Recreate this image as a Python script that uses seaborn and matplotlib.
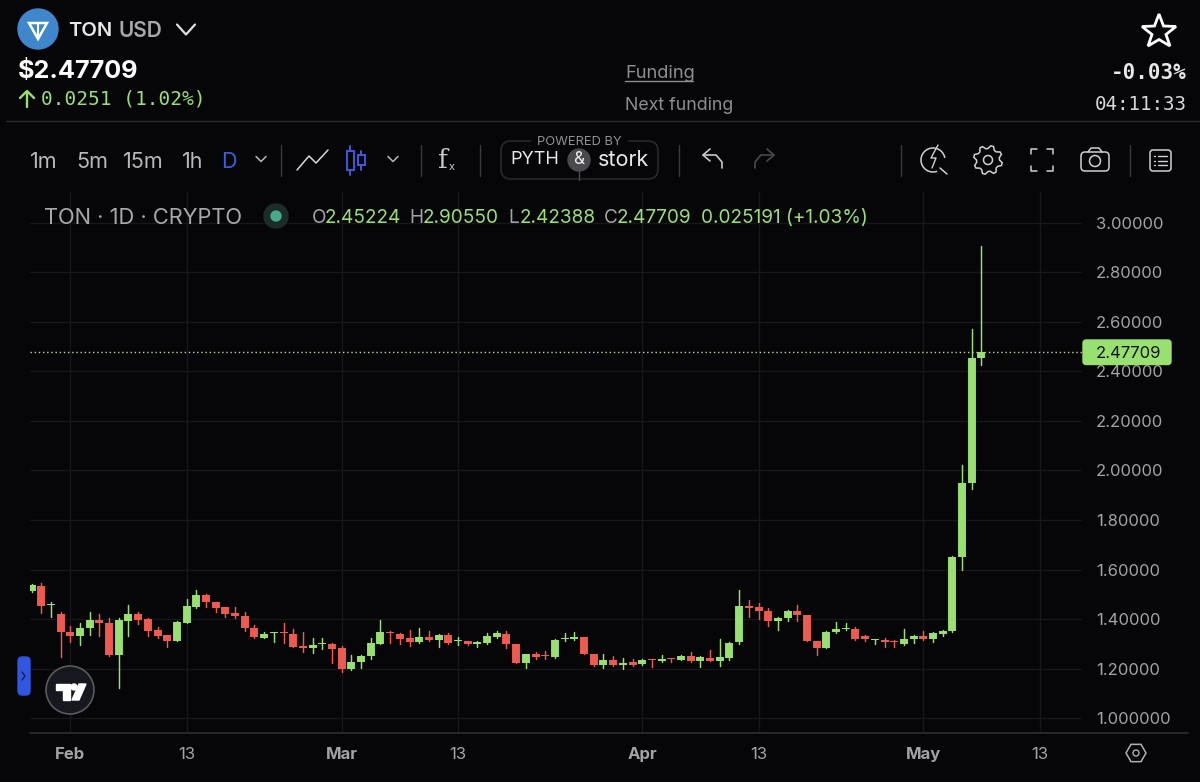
import numpy as np
import pandas as pd
import seaborn as sns
import matplotlib.pyplot as plt
from matplotlib.patches import Circle, FancyBboxPatch, Polygon, Rectangle, RegularPolygon, Arc

opens = [1.515, 1.534, 1.456, 1.423, 1.350, 1.334, 1.364, 1.397, 1.386, 1.256, 1.394, 1.423, 1.400, 1.358, 1.337, 1.311, 1.386, 1.451, 1.498, 1.468,
         1.448, 1.425, 1.415, 1.365, 1.326, 1.345, 1.347, 1.342, 1.292, 1.284, 1.300, 1.300, 1.283, 1.198, 1.226, 1.251, 1.302, 1.347, 1.342, 1.325,
         1.310, 1.329, 1.316, 1.335, 1.311, 1.312, 1.300, 1.303, 1.330, 1.342, 1.300, 1.224, 1.260, 1.256, 1.247, 1.321, 1.319, 1.329, 1.260, 1.214,
         1.237, 1.216, 1.228, 1.218, 1.240, 1.230, 1.243, 1.236, 1.252, 1.233, 1.245, 1.233, 1.245, 1.307, 1.455, 1.450, 1.435, 1.393, 1.404, 1.434,
         1.417, 1.314, 1.286, 1.347, 1.360, 1.362, 1.334, 1.315, 1.317, 1.313, 1.300, 1.319, 1.334, 1.321, 1.342, 1.352, 1.651, 1.950, 2.45224]
closes = [1.537, 1.454, 1.463, 1.349, 1.334, 1.365, 1.396, 1.385, 1.255, 1.397, 1.423, 1.397, 1.354, 1.334, 1.311, 1.389, 1.454, 1.498, 1.468, 1.446,
          1.423, 1.413, 1.364, 1.327, 1.342, 1.347, 1.345, 1.290, 1.284, 1.295, 1.304, 1.280, 1.198, 1.228, 1.253, 1.303, 1.347, 1.343, 1.320, 1.310,
          1.329, 1.316, 1.335, 1.306, 1.316, 1.299, 1.307, 1.331, 1.343, 1.299, 1.222, 1.259, 1.247, 1.251, 1.316, 1.325, 1.329, 1.260, 1.214, 1.237,
          1.214, 1.225, 1.217, 1.236, 1.236, 1.241, 1.239, 1.252, 1.232, 1.248, 1.233, 1.248, 1.303, 1.454, 1.447, 1.433, 1.392, 1.407, 1.434, 1.416,
          1.311, 1.286, 1.350, 1.362, 1.365, 1.319, 1.322, 1.319, 1.307, 1.307, 1.320, 1.334, 1.319, 1.345, 1.353, 1.651, 1.950, 2.452, 2.47709]
highs = [1.542, 1.548, 1.471, 1.428, 1.373, 1.386, 1.428, 1.420, 1.404, 1.404, 1.456, 1.431, 1.404, 1.369, 1.338, 1.393, 1.482, 1.517, 1.501, 1.471,
         1.450, 1.450, 1.428, 1.378, 1.347, 1.349, 1.384, 1.360, 1.347, 1.323, 1.323, 1.303, 1.294, 1.256, 1.256, 1.323, 1.397, 1.351, 1.346, 1.357,
         1.365, 1.351, 1.341, 1.345, 1.327, 1.314, 1.312, 1.345, 1.354, 1.354, 1.300, 1.260, 1.268, 1.272, 1.319, 1.343, 1.350, 1.330, 1.261, 1.259,
         1.253, 1.244, 1.239, 1.240, 1.241, 1.257, 1.244, 1.257, 1.267, 1.252, 1.278, 1.319, 1.307, 1.518, 1.477, 1.466, 1.446, 1.409, 1.438, 1.456,
         1.417, 1.314, 1.351, 1.389, 1.384, 1.368, 1.337, 1.320, 1.323, 1.315, 1.362, 1.335, 1.354, 1.349, 1.357, 1.655, 2.022, 2.571, 2.9055]
lows = [1.509, 1.427, 1.408, 1.249, 1.308, 1.298, 1.338, 1.334, 1.252, 1.124, 1.333, 1.381, 1.334, 1.325, 1.288, 1.311, 1.384, 1.446, 1.450, 1.428,
        1.409, 1.404, 1.354, 1.326, 1.325, 1.308, 1.303, 1.288, 1.270, 1.264, 1.280, 1.225, 1.189, 1.194, 1.204, 1.241, 1.302, 1.306, 1.299, 1.294,
        1.303, 1.314, 1.290, 1.302, 1.298, 1.295, 1.287, 1.299, 1.326, 1.283, 1.222, 1.202, 1.241, 1.241, 1.245, 1.311, 1.318, 1.260, 1.210, 1.204,
        1.210, 1.200, 1.212, 1.216, 1.206, 1.228, 1.229, 1.235, 1.229, 1.209, 1.232, 1.212, 1.237, 1.302, 1.411, 1.400, 1.373, 1.358, 1.395, 1.392,
        1.311, 1.256, 1.284, 1.346, 1.358, 1.318, 1.311, 1.302, 1.288, 1.287, 1.298, 1.304, 1.316, 1.310, 1.334, 1.350, 1.600, 1.925, 2.42388]

price_ticks = [1.0, 1.2, 1.4, 1.6, 1.8, 2.0, 2.2, 2.4, 2.6, 2.8, 3.0]
price_labels = ['1.000000', '1.20000', '1.40000', '1.60000', '1.80000', '2.00000', '2.20000', '2.40000', '2.60000', '2.80000', '3.00000']
day_ticks = [4, 16, 32, 44, 63, 75, 92, 104]
day_labels = ['Feb', '13', 'Mar', '13', 'Apr', '13', 'May', '13']
last_price = 2.47709

bg = '#060609'
green = '#98e070'
red = '#ef5a50'
grey = '#a3a3a6'
line = '#2a2a2e'
blue = '#3b5bdb'

sns.set_theme(style='dark')
plt.rcParams['font.family'] = ['Inter', 'DejaVu Sans']

days = list(range(len(opens)))
direction = ['up' if c >= o else 'down' for o, c in zip(opens, closes)]
wicks = pd.DataFrame({'day': days * 2, 'price': lows + highs, 'dir': direction * 2})
bodies = pd.DataFrame({'day': days * 2, 'price': opens + closes, 'dir': direction * 2})
palette = {'up': green, 'down': red}

fig = plt.figure(figsize=(12, 7.82), dpi=100, facecolor=bg)
ax = fig.add_axes([30 / 1200, 1 - 733 / 782, 1052 / 1200, 541 / 782], facecolor=bg)

sns.lineplot(data=wicks, x='day', y='price', hue='dir', units='day', estimator=None, palette=palette,
             linewidth=1.05, legend=False, ax=ax, zorder=3)
sns.lineplot(data=bodies, x='day', y='price', hue='dir', units='day', estimator=None, palette=palette,
             linewidth=5.7, solid_capstyle='butt', legend=False, ax=ax, zorder=4)

ax.axhline(last_price, color='#b8d890', lw=1, ls=(0, (1, 2)), zorder=2)
ax.set_xlim(-0.155, 108.37)
ax.set_ylim(0.9415, 3.123)
ax.set_xticks(day_ticks, day_labels)
ax.set_yticks(price_ticks, price_labels)
ax.set_xlabel('')
ax.set_ylabel('')
ax.yaxis.tick_right()
ax.tick_params(axis='both', length=0, labelcolor=grey, labelsize=12)
ax.tick_params(axis='x', pad=10)
ax.tick_params(axis='y', pad=10)
for t in ax.get_xticklabels():
    if t.get_text() != '13':
        t.set_weight('bold')
ax.grid(True, color='#17171b', lw=1)
ax.set_axisbelow(True)
for s in ax.spines.values():
    s.set_visible(False)

# everything around the chart, in pixel coordinates
ui = fig.add_axes([0, 0, 1, 1], facecolor='none')
ui.set_xlim(0, 1200)
ui.set_ylim(782, 0)
ui.axis('off')


def label(x, y, s, size=13, color=grey, ha='left', weight='normal', family=None):
    return ui.text(x, y + 2, s, fontsize=size, color=color, ha=ha, va='center', weight=weight,
                   family=family or ['Inter', 'DejaVu Sans'])


def stroke(xs, ys, color='#d8d8d8', lw=1.2):
    ui.plot(xs, ys, color=color, lw=lw, solid_capstyle='round', solid_joinstyle='round')


def chevron(x, y, w, h, color='#d8d8d8', lw=1.4):
    stroke([x - w, x, x + w], [y - h, y + h, y - h], color, lw)


mono = ['DejaVu Sans Mono']

stroke([30, 1188], [733, 733], '#2e2e32', 1.2)

# header
ui.add_patch(Circle((38, 29), 20, color='#3f87cc'))
ui.add_patch(Polygon([[29, 23], [47, 23], [38, 39]], closed=True, fill=False, ec='white', lw=1.8))
stroke([38, 38], [23, 39], 'white', 1.5)
label(68, 29, 'TON', 14.5, '#e8e8e8', weight='semibold')
label(119, 29, 'USD', 15, '#a8a8a8', weight='semibold')
chevron(186, 29.5, 9, 5, '#e0e0e0', 1.6)
label(18, 70, '$2.47709', 18.2, 'white', weight='bold')
stroke([27, 27], [92, 107], green, 1.7)
stroke([20, 27, 34], [98, 91, 98], green, 1.7)
label(41, 97, '0.0251 (1.02%)', 14, green, family=mono)
label(625, 71, 'Funding', 13.2, '#8e8e90')
stroke([625, 693], [81, 81], '#8e8e90', 1)
label(625, 103, 'Next funding', 12.8, '#8e8e90')
label(1187, 71, '-0.03%', 15, '#e8e8e8', ha='right', weight='bold', family=mono)
label(1187, 103, '04:11:33', 13.8, '#d8d8d8', ha='right', family=mono)
ui.add_patch(Polygon([[1159, 14], [1163.5, 26], [1176, 26.5], [1166, 34.5], [1170, 46], [1159, 39.5],
                      [1148, 46], [1152, 34.5], [1142, 26.5], [1154.5, 26]], closed=True, fc=bg, ec='white', lw=2))
stroke([6, 1200], [121, 121], line, 1)

# toolbar
for x, s in zip([30, 76, 123, 182], ['1m', '5m', '15m', '1h']):
    label(x, 160, s, 15.5, '#b8b8b8')
label(221, 160, 'D', 15.5, blue)
chevron(261, 159, 5, 2.5, '#b8b8b8', 1.1)
chevron(393, 159, 5, 2.5, '#b8b8b8', 1.1)
for x in [281, 421, 480, 679, 901, 1130]:
    stroke([x, x], [145, 176], '#3a3a3e', 1)
stroke([297, 309, 316, 328], [170, 156, 163, 150], '#d8d8d8', 1.1)
for x, y0, y1, h0, h1 in [(350, 151, 170, 146, 175), (361, 155, 165, 151, 170)]:
    ui.add_patch(Rectangle((x - 3.5, y0), 7, y1 - y0, fill=False, ec=blue, lw=1.4))
    stroke([x, x], [h0, y0], blue, 1.4)
    stroke([x, x], [y1, h1], blue, 1.4)
label(438, 158, 'f', 19, '#c8c8c8', family=['DejaVu Serif'])
label(449, 165, 'x', 8, '#c8c8c8')

# powered by badge
ui.add_patch(FancyBboxPatch((501, 141), 157, 38, boxstyle='round,pad=0,rounding_size=10', fill=False, ec='#2f2f33', lw=1))
ui.add_patch(Rectangle((531, 136), 96, 8, color=bg, zorder=3))
ui.text(579, 142, 'POWERED BY', fontsize=9.3, color='#909092', ha='center', va='center', zorder=4)
label(510, 158, 'PYTH', 13, '#e8e8e8')
ui.add_patch(Circle((579, 160), 11, color='#4a4a4e'))
label(579, 158, '&', 12.5, '#e8e8e8', ha='center')
stroke([579, 579], [171, 180], '#4a4a4e', 1)
label(598, 158, 'stork', 15.5, '#e8e8e8')

# undo, redo and the other buttons
stroke([722, 722, 716, 703], [168, 162, 155, 155], '#c8c8c8', 1.2)
stroke([710, 703, 710], [149, 155, 161], '#c8c8c8', 1.2)
stroke([755, 755, 761, 774], [168, 162, 155, 155], '#4a4a4e', 1.2)
stroke([767, 774, 767], [149, 155, 161], '#4a4a4e', 1.2)
ui.add_patch(Arc((933, 160), 24, 24, theta1=70, theta2=350, ec='#d0d0d0', lw=1.1))
stroke([940, 947], [168, 174], '#d0d0d0', 1.1)
stroke([938, 931, 936, 932], [145, 158, 158, 168], '#d0d0d0', 1)
angles = np.linspace(0, 2 * np.pi, 32, endpoint=False) + np.pi / 16
radii = np.tile([14.5, 14.5, 11.5, 11.5], 8)
ui.add_patch(Polygon(np.column_stack([988 + radii * np.cos(angles), 160 + radii * np.sin(angles)]), closed=True,
                     fill=False, ec='#d0d0d0', lw=1.1))
ui.add_patch(Circle((988, 160), 4.5, fill=False, ec='#d0d0d0', lw=1.1))
for xs, ys in [([1031, 1031, 1037], [154, 149, 149]), ([1047, 1053, 1053], [149, 149, 154]),
               ([1031, 1031, 1037], [166, 171, 171]), ([1047, 1053, 1053], [171, 171, 166])]:
    stroke(xs, ys, '#d0d0d0', 1.1)
ui.add_patch(FancyBboxPatch((1081, 152), 28, 19, boxstyle='round,pad=0,rounding_size=4', fill=False, ec='#d0d0d0', lw=1.1))
stroke([1088, 1091, 1099, 1102], [152, 148, 148, 152], '#d0d0d0', 1.1)
ui.add_patch(Circle((1095, 161), 5.5, fill=False, ec='#d0d0d0', lw=1.1))
ui.add_patch(FancyBboxPatch((1150, 150), 21, 21, boxstyle='round,pad=0,rounding_size=3', fill=False, ec='#d0d0d0', lw=1.1))
for y in [156, 160.5, 165]:
    stroke([1154, 1155], [y, y], '#d0d0d0', 1)
    stroke([1158, 1167], [y, y], '#d0d0d0', 1)

# legend row
label(44, 216, 'TON · 1D · CRYPTO', 15.8, '#a8a8aa')
ui.add_patch(Circle((276, 216), 12, color='#1b2c29'))
ui.add_patch(Circle((276, 216), 5, color='#4aa88c'))
for x, s, c in [(312, 'O', grey), (325, '2.45224', green), (409, 'H', grey), (423, '2.90550', green),
                (508, 'L', grey), (520, '2.42388', green), (604, 'C', grey), (617, '2.47709', green),
                (701, '0.025191 (+1.03%)', green)]:
    label(x, 216, s, 13.7, c)

# last price tag
ui.add_patch(FancyBboxPatch((1083, 340), 88, 24.5, boxstyle='round,pad=0,rounding_size=3', color=green, zorder=3))
ui.text(1096, 353, '2.47709', fontsize=12, color='#101410', ha='left', va='center', zorder=4)

# bottom and left widgets
ui.add_patch(RegularPolygon((1136, 753), 6, radius=10, orientation=np.pi / 6, fill=False, ec='#b0b0b0', lw=1.1))
ui.add_patch(Circle((1136, 753), 3, fill=False, ec='#b0b0b0', lw=1))
ui.add_patch(FancyBboxPatch((18, 657), 12, 38, boxstyle='round,pad=0,rounding_size=4', color='#3157e0'))
stroke([22, 25, 22], [672, 676, 680], '#10205a', 1)
ui.add_patch(Circle((70, 690), 24, fc='#16171f', ec='#5a5a5e', lw=1.2))
ui.add_patch(Polygon([[56, 684], [70, 684], [70, 700], [63, 700], [63, 690], [56, 690]], color='white'))
ui.add_patch(Circle((74, 687), 3, color='white'))
ui.add_patch(Polygon([[79, 684], [86, 684], [79, 700], [72, 700]], color='white'))

fig.savefig('out.png', dpi=100, facecolor=bg)
